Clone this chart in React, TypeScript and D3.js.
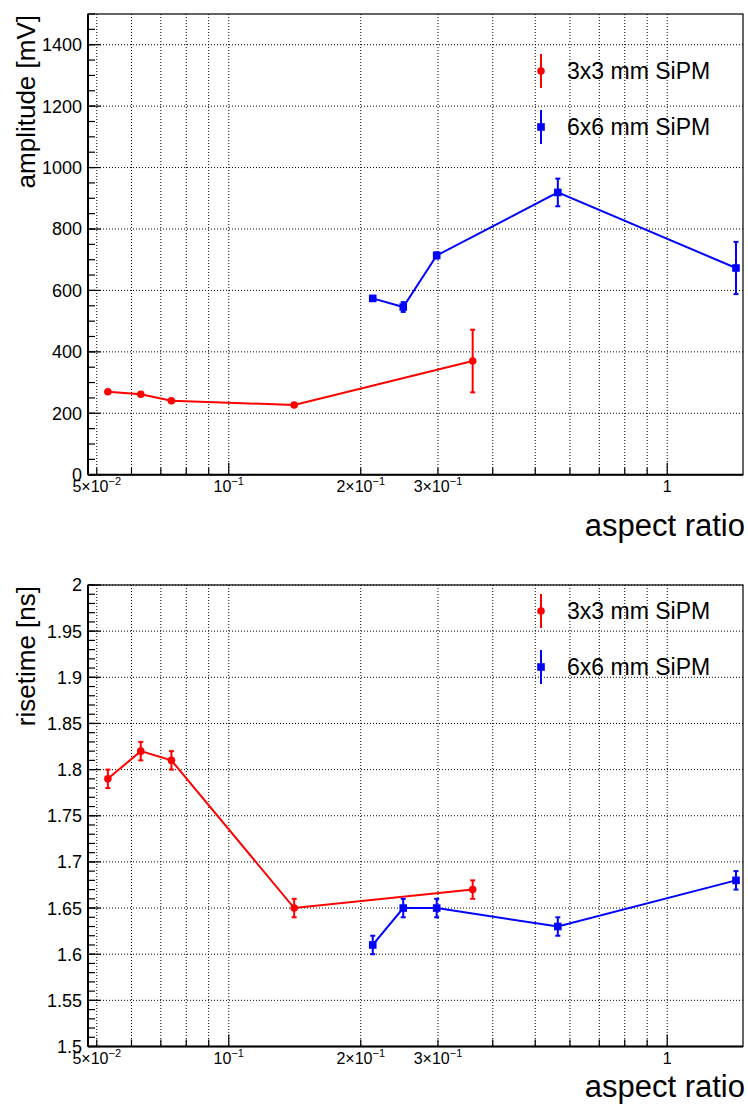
import React from "react";
import * as d3 from "d3";

// ---- data ----
const aspect3 = [0.053, 0.063, 0.074, 0.141, 0.36];
const amplitude3 = [270, 262, 241, 227, 370];
const amplitudeErr3 = [5, 5, 5, 5, 102];
const aspect6 = [0.213, 0.25, 0.298, 0.563, 1.435];
const amplitude6 = [574, 546, 714, 919, 673];
const amplitudeErr6 = [8, 16, 10, 45, 85];
const risetime3 = [1.79, 1.82, 1.81, 1.65, 1.67];
const risetimeErr3 = [0.01, 0.01, 0.01, 0.01, 0.01];
const risetime6 = [1.61, 1.65, 1.65, 1.63, 1.68];
const risetimeErr6 = [0.01, 0.01, 0.01, 0.01, 0.01];

const xTickValues = [0.05, 0.06, 0.07, 0.08, 0.09, 0.1, 0.2, 0.3, 0.4, 0.5, 0.6, 0.7, 0.8, 0.9, 1];
const xLabelValues = [0.05, 0.1, 0.2, 0.3, 1];
const xLabelBase = ["5×10", "10", "2×10", "3×10", "1"];
const xLabelExp = ["−2", "−1", "−1", "−1", ""];

const ampTicks = [0, 200, 400, 600, 800, 1000, 1200, 1400];
const ampTickLabels = ["0", "200", "400", "600", "800", "1000", "1200", "1400"];
const riseTicks = [1.5, 1.55, 1.6, 1.65, 1.7, 1.75, 1.8, 1.85, 1.9, 1.95, 2];
const riseTickLabels = ["1.5", "1.55", "1.6", "1.65", "1.7", "1.75", "1.8", "1.85", "1.9", "1.95", "2"];

const legendLabels = ["3x3 mm SiPM", "6x6 mm SiPM"];

const FONT = "'Liberation Sans', Arial, Helvetica, sans-serif";
const RED = "#ff0000";
const BLUE = "#0000ff";

const X0 = 88;
const X1 = 743;

const xScale = d3.scaleLog().domain([0.04775, 1.4888]).range([X0, X1]);

type Series = { xs: number[]; ys: number[]; errs: number[]; color: string; marker: "circle" | "square" };

function Marker({ x, y, kind, color }: { x: number; y: number; kind: string; color: string }) {
  if (kind === "circle") return <circle cx={x} cy={y} r={3.8} fill={color} />;
  return <rect x={x - 3.8} y={y - 3.8} width={7.6} height={7.6} fill={color} />;
}

function Panel({
  top,
  bottom,
  yDomain,
  yTicks,
  yTickLabels,
  yMinorStep,
  yTitle,
  series,
  legendY,
  tickLabelBaseline,
  titleBaseline,
}: {
  top: number;
  bottom: number;
  yDomain: [number, number];
  yTicks: number[];
  yTickLabels: string[];
  yMinorStep: number;
  yTitle: string;
  series: Series[];
  legendY: number[];
  tickLabelBaseline: number;
  titleBaseline: number;
}) {
  const y = d3.scaleLinear().domain(yDomain).range([bottom, top]);
  const nMinor = Math.round((yDomain[1] - yDomain[0]) / yMinorStep);
  const minor = d3.range(nMinor + 1).map((i) => yDomain[0] + i * yMinorStep);
  const line = d3
    .line<[number, number]>()
    .x((d) => xScale(d[0]))
    .y((d) => y(d[1]));
  return (
    <g>
      {/* grid */}
      {xTickValues.map((v, i) => (
        <line key={"gx" + i} x1={xScale(v)} x2={xScale(v)} y1={top} y2={bottom} stroke="#000" strokeWidth={1} strokeDasharray="1,2" />
      ))}
      {yTicks.map((v, i) => (
        <line key={"gy" + i} x1={X0} x2={X1} y1={y(v)} y2={y(v)} stroke="#000" strokeWidth={1} strokeDasharray="1,2" />
      ))}
      {/* frame */}
      <rect x={X0} y={top} width={X1 - X0} height={bottom - top} fill="none" stroke="#000" strokeWidth={1.2} />
      <line x1={X0} x2={X0} y1={top} y2={bottom} stroke="#000" strokeWidth={2} />
      <line x1={X0} x2={X1} y1={bottom} y2={bottom} stroke="#000" strokeWidth={2} />
      {/* y ticks */}
      {minor.map((v, i) => (
        <line key={"my" + i} x1={X0} x2={X0 + 7} y1={y(v)} y2={y(v)} stroke="#000" strokeWidth={1.2} />
      ))}
      {yTicks.map((v, i) => (
        <line key={"My" + i} x1={X0} x2={X0 + 13} y1={y(v)} y2={y(v)} stroke="#000" strokeWidth={1.2} />
      ))}
      {yTicks.map((v, i) => (
        <text key={"ly" + i} x={X0 - 6} y={y(v)} dy="0.36em" textAnchor="end" fontFamily={FONT} fontSize={18} fill="#000">
          {yTickLabels[i]}
        </text>
      ))}
      {/* x ticks */}
      {xTickValues.map((v, i) => {
        const major = v === 0.1 || v === 1;
        return (
          <line key={"tx" + i} x1={xScale(v)} x2={xScale(v)} y1={bottom} y2={bottom - (major ? 12 : 7)} stroke="#000" strokeWidth={1.2} />
        );
      })}
      {xLabelValues.map((v, i) => (
        <text key={"lx" + i} x={xScale(v)} y={tickLabelBaseline} textAnchor="middle" fontFamily={FONT} fontSize={16} fill="#000">
          {xLabelBase[i]}
          {xLabelExp[i] ? (
            <tspan fontSize={11} dy={-7}>
              {xLabelExp[i]}
            </tspan>
          ) : null}
        </text>
      ))}
      {/* titles */}
      <text x={X1 + 2} y={titleBaseline} textAnchor="end" fontFamily={FONT} fontSize={31} fill="#000">
        aspect ratio
      </text>
      <text
        transform={`translate(35,${top + 1}) rotate(-90)`}
        textAnchor="end"
        fontFamily={FONT}
        fontSize={26}
        fill="#000"
      >
        {yTitle}
      </text>
      {/* series */}
      {series.map((s, si) => {
        const pts: [number, number][] = s.xs.map((xv, i) => [xv, s.ys[i]]);
        return (
          <g key={"s" + si}>
            <path d={line(pts) || ""} fill="none" stroke={s.color} strokeWidth={2} />
            {s.xs.map((xv, i) => {
              const cx = xScale(xv);
              const yHi = y(s.ys[i] + s.errs[i]);
              const yLo = y(s.ys[i] - s.errs[i]);
              return (
                <g key={"e" + i}>
                  <line x1={cx} x2={cx} y1={yHi} y2={yLo} stroke={s.color} strokeWidth={2} />
                  <line x1={cx - 2.5} x2={cx + 2.5} y1={yHi} y2={yHi} stroke={s.color} strokeWidth={2} />
                  <line x1={cx - 2.5} x2={cx + 2.5} y1={yLo} y2={yLo} stroke={s.color} strokeWidth={2} />
                  <Marker x={cx} y={y(s.ys[i])} kind={s.marker} color={s.color} />
                </g>
              );
            })}
          </g>
        );
      })}
      {/* legend */}
      {series.map((s, si) => (
        <g key={"lg" + si}>
          <line x1={541} x2={541} y1={legendY[si] - 17} y2={legendY[si] + 17} stroke={s.color} strokeWidth={2} />
          <Marker x={541} y={legendY[si]} kind={s.marker} color={s.color} />
          <text x={567} y={legendY[si]} dy="0.36em" fontFamily={FONT} fontSize={23} fill="#000">
            {legendLabels[si]}
          </text>
        </g>
      ))}
    </g>
  );
}

export default function App() {
  const ampSeries: Series[] = [
    { xs: aspect3, ys: amplitude3, errs: amplitudeErr3, color: RED, marker: "circle" },
    { xs: aspect6, ys: amplitude6, errs: amplitudeErr6, color: BLUE, marker: "square" },
  ];
  const riseSeries: Series[] = [
    { xs: aspect3, ys: risetime3, errs: risetimeErr3, color: RED, marker: "circle" },
    { xs: aspect6, ys: risetime6, errs: risetimeErr6, color: BLUE, marker: "square" },
  ];
  return (
    <svg
      width={748}
      height={1109}
      style={{ position: "absolute", left: 0, top: 0, background: "#fff" }}
    >
      <rect x={0} y={0} width={748} height={1109} fill="#fff" />
      <Panel
        top={14}
        bottom={474.7}
        yDomain={[0, 1500]}
        yTicks={ampTicks}
        yTickLabels={ampTickLabels}
        yMinorStep={50}
        yTitle="amplitude [mV]"
        series={ampSeries}
        legendY={[71, 127]}
        tickLabelBaseline={492}
        titleBaseline={536}
      />
      <Panel
        top={585}
        bottom={1046.5}
        yDomain={[1.5, 2]}
        yTicks={riseTicks}
        yTickLabels={riseTickLabels}
        yMinorStep={0.01}
        yTitle="risetime [ns]"
        series={riseSeries}
        legendY={[611, 667]}
        tickLabelBaseline={1064}
        titleBaseline={1097}
      />
    </svg>
  );
}
